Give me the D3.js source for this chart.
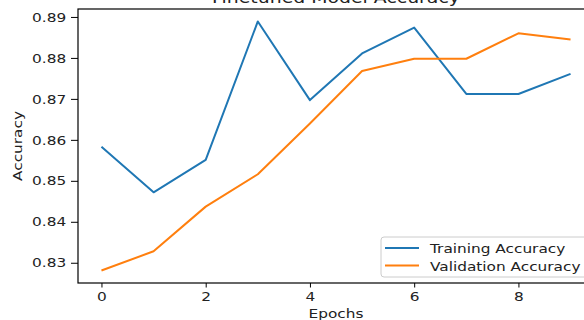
<!DOCTYPE html>
<html>
<head>
<meta charset="utf-8">
<script src="https://cdn.jsdelivr.net/npm/d3@7"></script>
<style>
  body { margin: 0; background: #fff; }
  svg { display: block; font-family: "DejaVu Sans", sans-serif; }
</style>
</head>
<body>
<svg id="chart" width="584" height="320"></svg>
<script>
const epochs = [0, 1, 2, 3, 4, 5, 6, 7, 8, 9];
const trainAcc = [0.8583, 0.8472, 0.8551, 0.8889, 0.8697, 0.8811, 0.8874, 0.8712, 0.8712, 0.8761];
const valAcc = [0.8281, 0.8328, 0.8437, 0.8516, 0.8640, 0.8768, 0.8798, 0.8798, 0.8860, 0.8845];
const xTicks = [0, 2, 4, 6, 8];
const yTicks = [0.83, 0.84, 0.85, 0.86, 0.87, 0.88, 0.89];
const seriesNames = ['Training Accuracy', 'Validation Accuracy'];
const colors = ['#1f77b4', '#ff7f0e'];

const svg = d3.select('#chart');
const plotLeft = 78, plotRight = 594, plotTop = 9, plotBottom = 283;

// matplotlib style autoscale with 5% margins
const xScale = d3.scaleLinear().domain([-0.45, 9.45]).range([plotLeft, plotRight]);
const yMin = d3.min(valAcc.concat(trainAcc)), yMax = d3.max(valAcc.concat(trainAcc));
const pad = (yMax - yMin) * 0.05;
const yScale = d3.scaleLinear().domain([yMin - pad, yMax + pad]).range([plotBottom, plotTop]);

const fontSize = 13;
const stretch = 1.18; // the source picture is a bit wider than tall

function addText(x, y, str, size, anchor, rot) {
  return svg.append('text')
    .attr('transform', `translate(${x},${y})` + (rot ? ` rotate(${rot})` : '') + ` scale(${stretch},1)`)
    .attr('text-anchor', anchor)
    .attr('font-size', size)
    .attr('fill', '#222')
    .text(str);
}

// title (mostly cut off at the top, as in the source)
addText((plotLeft + plotRight) / 2, 3, 'Finetuned Model Accuracy', 16, 'middle');

// lines
const line = d3.line().x((d, i) => xScale(epochs[i])).y(d => yScale(d));
[trainAcc, valAcc].forEach((s, k) => {
  svg.append('path')
    .datum(s)
    .attr('d', line)
    .attr('fill', 'none')
    .attr('stroke', colors[k])
    .attr('stroke-width', 2)
    .attr('stroke-linejoin', 'round');
});

// axes
const xAxis = svg.append('g')
  .attr('transform', `translate(0,${plotBottom})`)
  .call(d3.axisBottom(xScale).tickValues(xTicks).tickSize(4.5).tickPadding(4).tickFormat(d3.format('d')));
const yAxis = svg.append('g')
  .attr('transform', `translate(${plotLeft},0)`)
  .call(d3.axisLeft(yScale).tickValues(yTicks).tickSize(7).tickPadding(3).tickFormat(d3.format('.2f')));

[xAxis, yAxis].forEach(a => {
  a.select('.domain').remove();
  a.selectAll('line').attr('stroke', '#000').attr('stroke-width', 1);
  a.selectAll('text')
    .attr('font-size', fontSize)
    .attr('font-family', '"DejaVu Sans", sans-serif')
    .attr('fill', '#222')
    .attr('transform', `scale(${stretch},1)`);
});

// spines
svg.append('rect')
  .attr('x', plotLeft).attr('y', plotTop)
  .attr('width', plotRight - plotLeft).attr('height', plotBottom - plotTop)
  .attr('fill', 'none').attr('stroke', '#000').attr('stroke-width', 1.2);

// axis labels
addText((plotLeft + plotRight) / 2, 318, 'Epochs', fontSize, 'middle');
addText(22, (plotTop + plotBottom) / 2, 'Accuracy', fontSize, 'middle', -90);

// legend
const legend = svg.append('g').attr('transform', 'translate(381,237)');
legend.append('rect')
  .attr('width', 215).attr('height', 40)
  .attr('rx', 3)
  .attr('fill', '#fff').attr('fill-opacity', 0.8)
  .attr('stroke', '#ccc').attr('stroke-width', 1);
seriesNames.forEach((name, k) => {
  const y = 11 + k * 17.5;
  legend.append('line')
    .attr('x1', 4).attr('x2', 38).attr('y1', y).attr('y2', y)
    .attr('stroke', colors[k]).attr('stroke-width', 2);
  legend.append('text')
    .attr('transform', `translate(49,${y + 5}) scale(${stretch},1)`)
    .attr('font-size', fontSize)
    .attr('fill', '#222')
    .text(name);
});
</script>
</body>
</html>
